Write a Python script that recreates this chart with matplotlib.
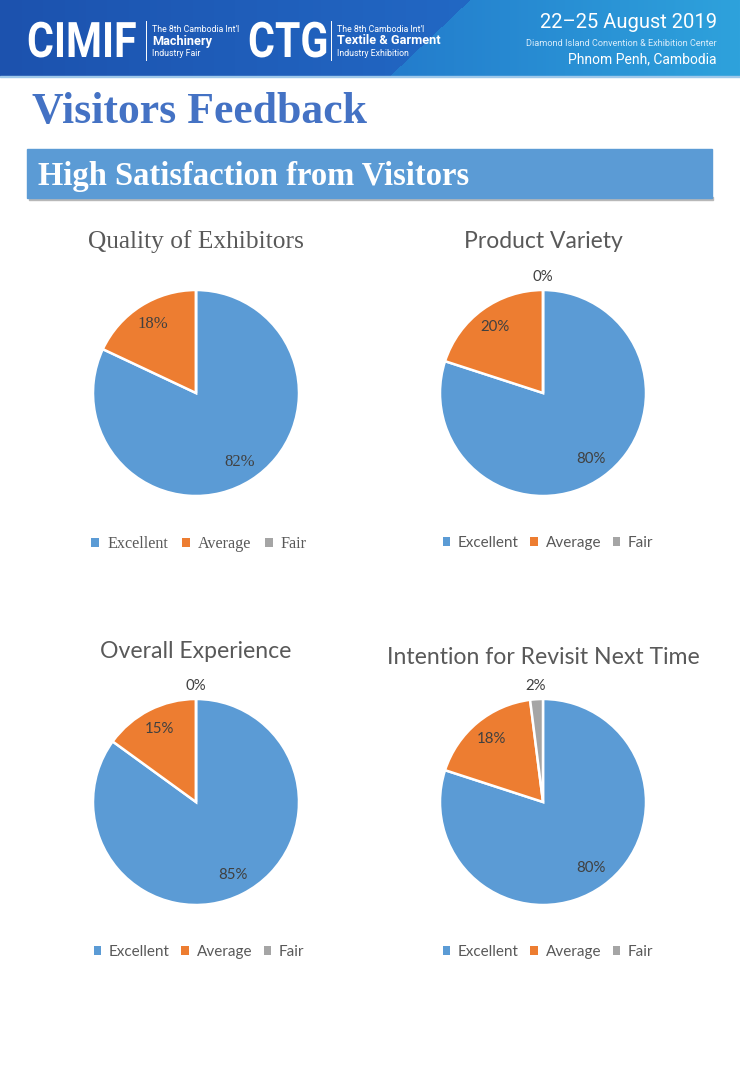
import numpy as np
import matplotlib
matplotlib.use("Agg")
import matplotlib.pyplot as plt
from matplotlib.patches import Rectangle, Patch, PathPatch
from matplotlib.textpath import TextPath
from matplotlib.font_manager import FontProperties
from matplotlib.transforms import Affine2D

# ---------------- data ----------------
categories = ["Excellent", "Average", "Fair"]
titles = ["Quality of Exhibitors", "Product Variety", "Overall Experience",
          "Intention for Revisit Next Time"]
quality_values = [82, 18, 0]
variety_values = [80, 20, 0]
experience_values = [85, 15, 0]
revisit_values = [80, 18, 2]
show_zero_label = [False, True, True, True]
colors = ["#5B9BD5", "#ED7D31", "#A5A5A5"]

W, H = 740, 1069
fig = plt.figure(figsize=(W / 100, H / 100), dpi=100)
fig.patch.set_facecolor("white")

def px_axes(x0, y0, w, h):
    return fig.add_axes([x0 / W, 1 - (y0 + h) / H, w / W, h / H])

# background axes in pixel coordinates
bg = fig.add_axes([0, 0, 1, 1])
bg.set_xlim(0, W)
bg.set_ylim(H, 0)
bg.axis("off")

# ---------------- header banner ----------------
bh = 77
xs = np.linspace(0, W, W)
ys = np.linspace(0, bh, bh)
X, Y = np.meshgrid(xs, ys)
boundary = 470 - (Y / bh) * 80
left_c0 = np.array([0x1c, 0x52, 0xae]) / 255
left_c1 = np.array([0x22, 0x68, 0xc4]) / 255
right_c0 = np.array([0x23, 0x7c, 0xcc]) / 255
right_c1 = np.array([0x2e, 0xa2, 0xdc]) / 255
t_left = np.clip(X / 470, 0, 1)[..., None]
t_right = np.clip((X - 390) / 350, 0, 1)[..., None]
img_left = left_c0 * (1 - t_left) + left_c1 * t_left
img_right = right_c0 * (1 - t_right) + right_c1 * t_right
mask = (X > boundary)[..., None]
img = np.where(mask, img_right, img_left)
bg.imshow(img, extent=[0, W, bh, 0], aspect="auto", zorder=0, interpolation="bilinear")
bg.add_patch(Rectangle((0, bh - 1.5), W, 1.5, color="#9ec8ea", zorder=1))

def condensed_text(x, y_base, s, size, sx):
    fp = FontProperties(family="Roboto", weight="bold")
    tp = TextPath((0, 0), s, size=size, prop=fp)
    tr = Affine2D().scale(sx, -1).translate(x, y_base) + bg.transData
    bg.add_patch(PathPatch(tp, transform=tr, facecolor="white", edgecolor="none", zorder=2))

condensed_text(27, 57, "CIMIF", 49, 0.84)
condensed_text(248, 57, "CTG", 49, 0.84)

bg.plot([146, 146], [21, 60], color="white", lw=0.7, zorder=2)
bg.text(152, 29, "The 8th Cambodia Int'l", color="white", fontsize=6.3, family="Roboto",
        va="center", zorder=2)
bg.text(152, 41, "Machinery", color="white", fontsize=9.2, fontweight="bold",
        family="Roboto", va="center", zorder=2)
bg.text(152, 53, "Industry Fair", color="white", fontsize=6.3, family="Roboto",
        va="center", zorder=2)
bg.plot([331, 331], [21, 60], color="white", lw=0.7, zorder=2)
bg.text(337, 29, "The 8th Cambodia Int'l", color="white", fontsize=6.3, family="Roboto",
        va="center", zorder=2)
bg.text(337, 41, "Textile & Garment", color="white", fontsize=9.2, fontweight="bold",
        family="Roboto", va="center", zorder=2)
bg.text(337, 53, "Industry Exhibition", color="white", fontsize=6.3, family="Roboto",
        va="center", zorder=2)
bg.text(717, 23, "22\u201325 August 2019", color="white", fontsize=14.5, family="Roboto",
        va="center", ha="right", zorder=2)
bg.text(717, 44, "Diamond Island Convention & Exhibition Center", color="#d8ecfa",
        fontsize=6.6, family="Roboto", va="center", ha="right", zorder=2)
bg.text(717, 59, "Phnom Penh, Cambodia", color="white", fontsize=10, family="Roboto",
        va="center", ha="right", zorder=2)

# ---------------- titles ----------------
bg.text(32, 112, "Visitors Feedback", color="#4472C4", fontsize=31.5, fontweight="bold",
        family="Liberation Serif", va="center", ha="left")
bg.add_patch(Rectangle((29, 197), 684, 2.5, color="#b8b8b8", zorder=1))
bg.add_patch(Rectangle((27, 149), 685, 49, color="#5B9BD5", zorder=2))
bg.text(38, 176, "High Satisfaction from Visitors", color="white", fontsize=23.5,
        fontweight="bold", family="Liberation Serif", va="center", ha="left", zorder=3)

# ---------------- pies ----------------
all_values = [quality_values, variety_values, experience_values, revisit_values]
centers = [(196, 393), (543, 393), (196, 802), (543, 802)]
radius_px = 103
title_y = [242, 242, 651, 658]
legend_y = [544, 543, 952, 952]
legend_x = [199, 548, 199, 548]
fonts = [["Liberation Serif"], ["Lato", "DejaVu Sans"], ["Lato", "DejaVu Sans"],
         ["Lato", "DejaVu Sans"]]
title_sizes = [18.3, 16.5, 16.6, 16.6]
label_sizes = [12, 10.8, 10.8, 10.8]
legend_sizes = [11.6, 11, 11, 11]
col_spacing = [0.85, 0.75, 0.75, 0.75]

for i, vals in enumerate(all_values):
    cx, cy = centers[i]
    fam = fonts[i]
    ax = px_axes(cx - radius_px, cy - radius_px, 2 * radius_px, 2 * radius_px)
    wedges, _ = ax.pie(vals, colors=colors, startangle=90, counterclock=False,
                       radius=1, wedgeprops=dict(edgecolor="white", linewidth=1.8))
    ax.set_xlim(-1, 1)
    ax.set_ylim(-1, 1)
    ax.set_aspect("equal")
    ax.axis("off")
    for w, v in zip(wedges, vals):
        if v == 0 and not show_zero_label[i]:
            continue
        mid = np.deg2rad((w.theta1 + w.theta2) / 2)
        r = 0.79 if v >= 10 else 1.13
        ax.text(r * np.cos(mid), r * np.sin(mid), f"{v}%", ha="center", va="center",
                fontsize=label_sizes[i], color="#404040", family=fam, clip_on=False)
    bg.text(cx, title_y[i], titles[i], ha="center", va="center", fontsize=title_sizes[i],
            color="#595959", family=fam)
    handles = [Patch(facecolor=c, edgecolor="none") for c in colors]
    fig.legend(handles, categories, loc="center",
               bbox_to_anchor=(legend_x[i] / W, 1 - legend_y[i] / H), ncol=3,
               frameon=False, handlelength=0.5, handleheight=0.5, handletextpad=0.5,
               columnspacing=col_spacing[i], prop=dict(family=fam, size=legend_sizes[i]),
               labelcolor="#595959")

fig.savefig("out.png", dpi=100, facecolor="white")
